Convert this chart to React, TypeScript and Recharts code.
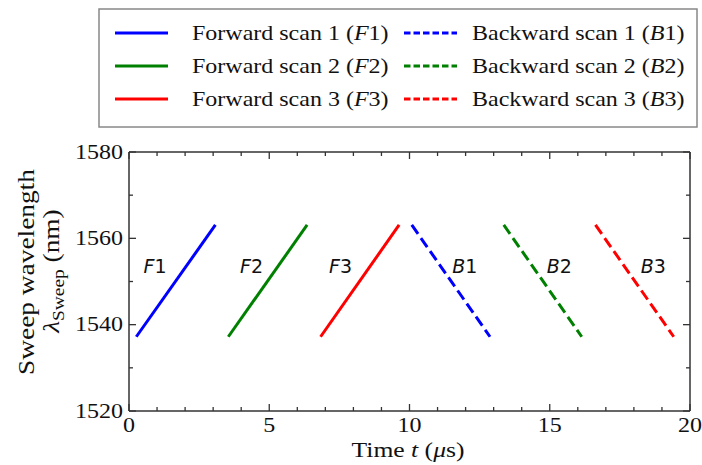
import { LineChart, Line, XAxis, YAxis, ReferenceDot } from 'recharts'

// scan colours, in legend order
const SCAN_NAMES = ['1', '2', '3']
const SCAN_COLORS = ['#0000ff', '#008000', '#ff0000']

// start / end times (µs) of each sweep
const FORWARD_T = [[0.26, 3.08], [3.54, 6.35], [6.83, 9.63]]
const BACKWARD_T = [[10.08, 12.87], [13.36, 16.14], [16.63, 19.42]]
// wavelengths at start / end (nm)
const FORWARD_NM = [1537.2, 1563.1]
const BACKWARD_NM = [1563.1, 1537.2]

// F1..B3 text labels
const LABELS = ['F1', 'F2', 'F3', 'B1', 'B2', 'B3']
const LABEL_T = [0.93, 4.37, 7.54, 11.97, 15.34, 18.69]
const LABEL_NM = 1553.5

const X_TICKS = [0, 1, 2, 3, 4, 5, 6, 7, 8, 9, 10, 11, 12, 13, 14, 15, 16, 17, 18, 19, 20]
const Y_TICKS = [1520, 1530, 1540, 1550, 1560, 1570, 1580]

const SERIF = '"Liberation Serif", "DejaVu Serif", serif'
const SANS = '"DejaVu Sans", sans-serif'
const AX = '#333'
const STRETCH = 1.2

const toRows = (t: number[], nm: number[]) => t.map((v, i) => ({ t: v, nm: nm[i] }))

const Num = ({ x, y, anchor, children }: any) => (
  <text transform={`translate(${x} ${y}) scale(${STRETCH} 1)`} textAnchor={anchor}
    fontFamily={SERIF} fontSize={20} fill="#111">{children}</text>
)

const BottomTick = ({ x, y, payload }: any) => {
  const major = payload.value % 5 === 0
  return (
    <g>
      <line x1={x} x2={x} y1={y} y2={y - (major ? 7 : 4)} stroke={AX} strokeWidth={1.3} />
      {major && <Num x={x} y={y + 21} anchor="middle">{payload.value}</Num>}
    </g>
  )
}
const TopTick = ({ x, y, payload }: any) => (
  <line x1={x} x2={x} y1={y} y2={y + (payload.value % 5 === 0 ? 7 : 4)} stroke={AX} strokeWidth={1.3} />
)
const LeftTick = ({ x, y, payload }: any) => {
  const major = payload.value % 20 === 0
  return (
    <g>
      <line x1={x} x2={x + (major ? 7 : 4)} y1={y} y2={y} stroke={AX} strokeWidth={1.3} />
      {major && <Num x={x - 6} y={y + 6.5} anchor="end">{payload.value}</Num>}
    </g>
  )
}
const RightTick = ({ x, y, payload }: any) => (
  <line x1={x} x2={x - (payload.value % 20 === 0 ? 7 : 4)} y1={y} y2={y} stroke={AX} strokeWidth={1.3} />
)

const ScanLabel = (text: string) => (props: any) => (
  <text x={props.cx} y={props.cy + 7} textAnchor="middle" fontFamily={SANS} fontSize={19} fill="#111">
    <tspan fontStyle="italic">{text[0]}</tspan>{text.slice(1)}
  </text>
)

export default function App() {
  return (
    <div style={{ position: 'absolute', left: 0, top: 0, width: 702, height: 465, background: '#fff' }}>
      <LineChart width={702} height={465} margin={{ top: 151, right: 11, bottom: 53, left: 128 }}>
        <XAxis xAxisId="b" dataKey="t" type="number" domain={[0, 20]} ticks={X_TICKS} interval={0}
          height={1} tickSize={0} tickMargin={0} tick={BottomTick} tickLine={false}
          axisLine={{ stroke: AX, strokeWidth: 1.5 }} allowDataOverflow />
        <XAxis xAxisId="t" orientation="top" dataKey="t" type="number" domain={[0, 20]} ticks={X_TICKS} interval={0}
          height={1} tickSize={0} tickMargin={0} tick={TopTick} tickLine={false}
          axisLine={{ stroke: AX, strokeWidth: 1.5 }} allowDataOverflow />
        <YAxis yAxisId="l" type="number" domain={[1520, 1580]} ticks={Y_TICKS} interval={0}
          width={1} tickSize={0} tickMargin={0} tick={LeftTick} tickLine={false}
          axisLine={{ stroke: AX, strokeWidth: 1.5 }} allowDataOverflow />
        <YAxis yAxisId="r" orientation="right" type="number" domain={[1520, 1580]} ticks={Y_TICKS} interval={0}
          width={1} tickSize={0} tickMargin={0} tick={RightTick} tickLine={false}
          axisLine={{ stroke: AX, strokeWidth: 1.5 }} allowDataOverflow />
        {FORWARD_T.map((t, i) => (
          <Line key={'f' + i} xAxisId="b" yAxisId="l" data={toRows(t, FORWARD_NM)} dataKey="nm" type="linear"
            stroke={SCAN_COLORS[i]} strokeWidth={3} dot={false} isAnimationActive={false} />
        ))}
        {BACKWARD_T.map((t, i) => (
          <Line key={'b' + i} xAxisId="b" yAxisId="l" data={toRows(t, BACKWARD_NM)} dataKey="nm" type="linear"
            stroke={SCAN_COLORS[i]} strokeWidth={3} strokeDasharray="11 5" dot={false} isAnimationActive={false} />
        ))}
        {LABELS.map((s, i) => (
          <ReferenceDot key={s} xAxisId="b" yAxisId="l" x={LABEL_T[i]} y={LABEL_NM} r={0} shape={ScanLabel(s)} />
        ))}
      </LineChart>

      <svg width={702} height={465} style={{ position: 'absolute', left: 0, top: 0, pointerEvents: 'none' }}>
        {/* axis titles */}
        <text transform="translate(408 457) scale(1.28 1)" textAnchor="middle" fontFamily={SERIF} fontSize={20} fill="#111">
          Time <tspan fontStyle="italic">t</tspan> (<tspan fontStyle="italic">μ</tspan>s)
        </text>
        <text transform="translate(34 272) rotate(-90) scale(1.14 1)" textAnchor="middle" fontFamily={SERIF} fontSize={24} fill="#111">
          Sweep wavelength
        </text>
        <text transform="translate(59 271) rotate(-90) scale(1.14 1)" textAnchor="middle" fontFamily={SERIF} fontSize={24} fill="#111">
          <tspan fontStyle="italic">λ</tspan><tspan fontSize={17} dy={5}>Sweep</tspan><tspan dy={-5}> (nm)</tspan>
        </text>

        {/* legend */}
        <rect x={99} y={9} width={598} height={118} fill="#fff" stroke="#888" strokeWidth={1.5} />
        {SCAN_NAMES.map((n, i) => {
          const cy = 33 + i * 33
          return (
            <g key={n}>
              <line x1={115} x2={168} y1={cy} y2={cy} stroke={SCAN_COLORS[i]} strokeWidth={3} />
              <text transform={`translate(192 ${cy + 6.5}) scale(${STRETCH} 1)`} fontFamily={SERIF} fontSize={20} fill="#111">
                Forward scan {n} (<tspan fontStyle="italic">F</tspan>{n})
              </text>
              <line x1={404} x2={457} y1={cy} y2={cy} stroke={SCAN_COLORS[i]} strokeWidth={3} strokeDasharray="6.5 3" />
              <text transform={`translate(472 ${cy + 6.5}) scale(${STRETCH} 1)`} fontFamily={SERIF} fontSize={20} fill="#111">
                Backward scan {n} (<tspan fontStyle="italic">B</tspan>{n})
              </text>
            </g>
          )
        })}
      </svg>
    </div>
  )
}
